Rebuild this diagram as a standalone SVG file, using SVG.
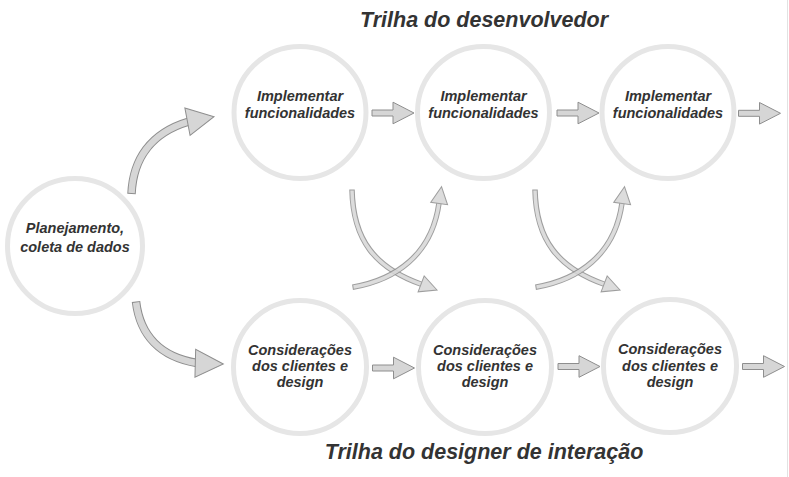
<svg xmlns="http://www.w3.org/2000/svg" width="789" height="477" viewBox="0 0 789 477">
<style>
.ring{fill:#fff;stroke:#e6e6e6;stroke-width:5}
.lbl{font-family:"Liberation Sans",Arial,sans-serif;font-weight:bold;font-style:italic;font-size:14.5px;fill:#333;text-anchor:middle}
.title{font-family:"Liberation Sans",Arial,sans-serif;font-weight:bold;font-style:italic;font-size:21.5px;fill:#333;text-anchor:middle}
.ha{fill:#d6d6d6;stroke:#8e8e8e;stroke-width:1}
.so{fill:none;stroke:#8e8e8e;stroke-linecap:butt}
.si{fill:none;stroke:#d6d6d6;stroke-linecap:butt}
.hd{fill:#d6d6d6;stroke:#8e8e8e;stroke-width:1;stroke-linejoin:miter}
</style>
<defs>
<path id="harrow" d="M0,-3 H21 V-10.8 L42,0 L21,10.8 V3 H0 Z"/>
</defs>
<rect width="789" height="477" fill="#fff"/>
<line x1="787.5" y1="0" x2="787.5" y2="477" stroke="#e2e2e2" stroke-width="1"/>

<g id="title-dev"><text class="title" x="484" y="27">Trilha do desenvolvedor</text></g>
<g id="title-design"><text class="title" x="484" y="459">Trilha do designer de interação</text></g>

<g id="node-plan">
<circle class="ring" cx="75" cy="246" r="67.5"/>
<text class="lbl" x="75" y="232.5">Planejamento,</text>
<text class="lbl" x="75" y="252">coleta de dados</text>
</g>
<g id="node-impl1">
<circle class="ring" cx="300" cy="112.5" r="66"/>
<text class="lbl" x="300" y="101">Implementar</text>
<text class="lbl" x="300" y="118">funcionalidades</text>
</g>
<g id="node-impl2">
<circle class="ring" cx="483.5" cy="112.5" r="66"/>
<text class="lbl" x="483.5" y="101">Implementar</text>
<text class="lbl" x="483.5" y="118">funcionalidades</text>
</g>
<g id="node-impl3">
<circle class="ring" cx="668" cy="112.5" r="66"/>
<text class="lbl" x="668" y="101">Implementar</text>
<text class="lbl" x="668" y="118">funcionalidades</text>
</g>
<g id="node-des1">
<circle class="ring" cx="300" cy="367" r="66.5"/>
<text class="lbl" x="300" y="354.5">Considerações</text>
<text class="lbl" x="300" y="371">dos clientes e</text>
<text class="lbl" x="300" y="387">design</text>
</g>
<g id="node-des2">
<circle class="ring" cx="485" cy="367" r="66.5"/>
<text class="lbl" x="485" y="354.5">Considerações</text>
<text class="lbl" x="485" y="371">dos clientes e</text>
<text class="lbl" x="485" y="387">design</text>
</g>
<g id="node-des3">
<circle class="ring" cx="670" cy="366" r="66.5"/>
<text class="lbl" x="670" y="354">Considerações</text>
<text class="lbl" x="670" y="370.5">dos clientes e</text>
<text class="lbl" x="670" y="386.5">design</text>
</g>

<g id="connectors">
<!-- horizontal arrows -->
<use href="#harrow" class="ha" x="372" y="113"/>
<use href="#harrow" class="ha" x="557" y="113"/>
<use href="#harrow" class="ha" x="738.5" y="113.3"/>
<use href="#harrow" class="ha" x="372.5" y="368"/>
<use href="#harrow" class="ha" x="558" y="366.5"/>
<use href="#harrow" class="ha" x="742.5" y="366.5"/>

<!-- plan to top -->
<g>
<path class="so" stroke-width="8.5" d="M131.5,194 C133,160 150,133 189,121.5"/>
<path class="si" stroke-width="6.5" d="M131.55,193 C133,160 150,133 189,121.5"/>
<polygon class="hd" points="0,0 -27,-14 -27,14" transform="translate(214,116.7) rotate(-10.7)"/>
</g>
<!-- plan to bottom -->
<g>
<path class="so" stroke-width="8.5" d="M136,301.5 C140,335 160,357 197,363"/>
<path class="si" stroke-width="6.5" d="M136.1,302.5 C140,335 160,357 197,363"/>
<polygon class="hd" points="0,0 -28,-14 -28,14" transform="translate(223.3,364) rotate(1.5)"/>
</g>

<!-- crossing pair 1 and 2 -->
<g id="cross1">
<g opacity="0.85">
<path class="so" stroke-width="5.5" d="M352,189.5 C353,240 375,268 422,284.5"/>
<path class="si" stroke-width="3.5" d="M352,190.5 C353,240 375,268 422,284.5"/>
<polygon class="hd" points="0,0 -17,-8.5 -17,8.5" transform="translate(437,290) rotate(21)"/>
</g>
<g opacity="0.85">
<path class="so" stroke-width="5.5" d="M352.5,287.2 C395,280 432,255 439,203"/>
<path class="si" stroke-width="3.5" d="M353.5,287 C395,280 432,255 439,203"/>
<polygon class="hd" points="0,0 -17,-8.5 -17,8.5" transform="translate(441.5,186.7) rotate(-82)"/>
</g>
</g>
<g id="cross2" transform="translate(183,0)">
<g opacity="0.85">
<path class="so" stroke-width="5.5" d="M352,189.5 C353,240 375,268 422,284.5"/>
<path class="si" stroke-width="3.5" d="M352,190.5 C353,240 375,268 422,284.5"/>
<polygon class="hd" points="0,0 -17,-8.5 -17,8.5" transform="translate(437,290) rotate(21)"/>
</g>
<g opacity="0.85">
<path class="so" stroke-width="5.5" d="M352.5,287.2 C395,280 432,255 439,203"/>
<path class="si" stroke-width="3.5" d="M353.5,287 C395,280 432,255 439,203"/>
<polygon class="hd" points="0,0 -17,-8.5 -17,8.5" transform="translate(441.5,186.7) rotate(-82)"/>
</g>
</g>
</g>
</svg>
